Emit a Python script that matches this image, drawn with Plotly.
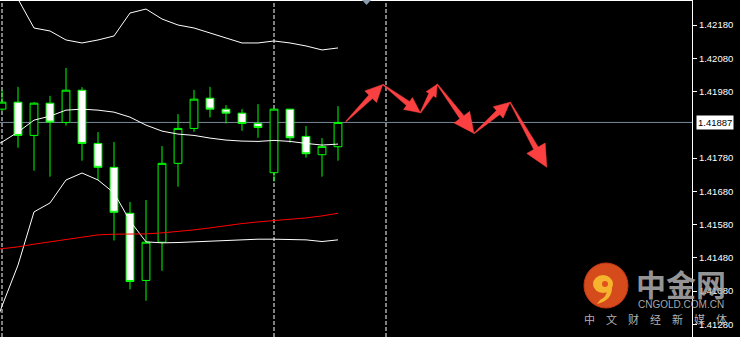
import math
import plotly.graph_objects as go

# ---------------- data ----------------
bars = list(range(22))
opens = [1.41927, 1.41948, 1.41848, 1.41945, 1.41887, 1.41984, 1.41824, 1.41752, 1.41614, 1.41412, 1.41527,
         1.41764, 1.41869, 1.41960, 1.41927, 1.41915, 1.41884, 1.41736, 1.41927, 1.41845, 1.41790, 1.41814]
highs = [1.41985, 1.41994, 1.41948, 1.41967, 1.42051, 1.41993, 1.41858, 1.41828, 1.41648, 1.41654, 1.41816,
         1.41912, 1.41985, 1.41994, 1.41939, 1.41927, 1.41942, 1.41928, 1.41927, 1.41876, 1.41840, 1.41936]
lows = [1.41921, 1.41811, 1.41742, 1.41724, 1.41878, 1.41772, 1.41714, 1.41532, 1.41385, 1.41351, 1.41441,
        1.41694, 1.41859, 1.41902, 1.41884, 1.41862, 1.41841, 1.41709, 1.41826, 1.41781, 1.41724, 1.41772]
closes = [1.41948, 1.41848, 1.41945, 1.41888, 1.41984, 1.41824, 1.41752, 1.41617, 1.41409, 1.41527, 1.41764,
          1.41869, 1.41957, 1.41927, 1.41915, 1.41884, 1.41872, 1.41927, 1.41841, 1.41793, 1.41815, 1.41887]

band_x = list(range(-1, 22))
upper_band = [1.42436, 1.42339, 1.42258, 1.42171, 1.42162, 1.42135, 1.42126, 1.42135, 1.42147, 1.42216, 1.42228,
              1.42198, 1.42180, 1.42171, 1.42156, 1.42141, 1.42126, 1.42126, 1.42132, 1.42126, 1.42117, 1.42105, 1.42111]
middle_band = [1.41804, 1.41828, 1.41858, 1.41894, 1.41906, 1.41924, 1.41927, 1.41924, 1.41918, 1.41903, 1.41879,
               1.41861, 1.41852, 1.41848, 1.41840, 1.41834, 1.41831, 1.41830, 1.41833, 1.41830, 1.41824, 1.41819, 1.41822]
lower_band = [1.41203, 1.41335, 1.41458, 1.41618, 1.41645, 1.41714, 1.41735, 1.41714, 1.41675, 1.41591, 1.41528,
              1.41525, 1.41526, 1.41528, 1.41531, 1.41534, 1.41535, 1.41536, 1.41536, 1.41536, 1.41534, 1.41529, 1.41534]
ma_red = [1.41502, 1.41507, 1.41513, 1.41521, 1.41528, 1.41537, 1.41543, 1.41549, 1.41551, 1.41551, 1.41552,
          1.41555, 1.41559, 1.41564, 1.41570, 1.41577, 1.41583, 1.41588, 1.41592, 1.41594, 1.41600, 1.41606, 1.41614]

current_price = 1.41887
separator_bars = [0, 17, 24]
tick_prices = [1.41280, 1.41380, 1.41480, 1.41580, 1.41680, 1.41780, 1.41980, 1.42080, 1.42180]
tick_labels = ["%.5f" % p for p in tick_prices]

arrow_x = [21.5, 23.8, 26.15, 27.2, 29.5, 31.75, 34.05]
arrow_y = [1.41890, 1.42001, 1.41916, 1.42002, 1.41854, 1.41948, 1.41752]

# ---------------- layout geometry ----------------
W, H = 740, 337
MR = 48
PW, PH = W - MR, H
X_RANGE = [-0.125, 43.125]
Y_RANGE = [1.4124194, 1.4225517]
sx = PW / (X_RANGE[1] - X_RANGE[0])
sy = PH / (Y_RANGE[1] - Y_RANGE[0])

GREEN = "#00ff00"
RED_ARROW = "#fa4040"

fig = go.Figure()

fig.add_trace(go.Candlestick(
    x=bars, open=opens, high=highs, low=lows, close=closes,
    increasing=dict(line=dict(color=GREEN, width=1), fillcolor="black"),
    decreasing=dict(line=dict(color=GREEN, width=1), fillcolor="white"),
    whiskerwidth=0, showlegend=False, hoverinfo="skip"))

for series, col in [(upper_band, "white"), (middle_band, "white"), (lower_band, "white"), (ma_red, "#ff0000")]:
    fig.add_trace(go.Scatter(x=band_x, y=series, mode="lines",
                             line=dict(color=col, width=1), showlegend=False, hoverinfo="skip"))


def arrow_poly(xa, ya, xb, yb):
    ax, ay = xa * sx, ya * sy
    bx, by = xb * sx, yb * sy
    dx, dy = bx - ax, by - ay
    L = math.hypot(dx, dy)
    ux, uy = dx / L, dy / L
    nx, ny = -uy, ux
    hl = min(max(0.33 * L, 12.0), 22.0)
    hw = 0.48 * hl
    cx, cy = bx - ux * hl, by - uy * hl
    st, sb = 0.4, 2.6
    pts = [(ax + nx * st, ay + ny * st), (cx + nx * sb, cy + ny * sb), (cx + nx * hw, cy + ny * hw),
           (bx, by), (cx - nx * hw, cy - ny * hw), (cx - nx * sb, cy - ny * sb),
           (ax - nx * st, ay - ny * st), (ax + nx * st, ay + ny * st)]
    return [p[0] / sx for p in pts], [p[1] / sy for p in pts]


for i in range(len(arrow_x) - 1):
    px_, py_ = arrow_poly(arrow_x[i], arrow_y[i], arrow_x[i + 1], arrow_y[i + 1])
    fig.add_trace(go.Scatter(x=px_, y=py_, mode="lines", fill="toself", fillcolor=RED_ARROW,
                             line=dict(color=RED_ARROW, width=0.5), showlegend=False, hoverinfo="skip"))

shapes = []
# current price line
shapes.append(dict(type="line", xref="paper", yref="y", x0=0, x1=1, y0=current_price, y1=current_price,
                   line=dict(color="#778899", width=1), layer="below"))
# period separators
for b in separator_bars:
    shapes.append(dict(type="line", xref="x", yref="paper", x0=b, x1=b, y0=0, y1=1,
                       line=dict(color="white", width=1, dash="4px,2px"), layer="below"))
# top frame line
shapes.append(dict(type="line", xref="paper", yref="paper", x0=0, x1=1, y0=1 - 0.5 / PH, y1=1 - 0.5 / PH,
                   line=dict(color="white", width=1)))


def pp(x, y):
    return x / PW, 1 - y / PH


# chart shift marker
a, b_, c = pp(362, 0), pp(371, 0), pp(366.5, 5)
shapes.append(dict(type="path", xref="paper", yref="paper",
                   path=f"M {a[0]} {a[1]} L {b_[0]} {b_[1]} L {c[0]} {c[1]} Z",
                   fillcolor="#8a9bb0", line=dict(width=0)))

# logo circle
c0, c1 = pp(584, 263), pp(628, 308)
shapes.append(dict(type="circle", xref="paper", yref="paper", x0=c0[0], y0=c1[1], x1=c1[0], y1=c0[1],
                   fillcolor="#e2501e", line=dict(color="#d03a18", width=1), opacity=0.95))
y0_, y1_ = pp(593, 275), pp(613, 293)
shapes.append(dict(type="circle", xref="paper", yref="paper", x0=y0_[0], y0=y1_[1], x1=y1_[0], y1=y0_[1],
                   fillcolor="#f6b42e", line=dict(width=0)))
h0, h1 = pp(602, 281), pp(608, 287)
shapes.append(dict(type="circle", xref="paper", yref="paper", x0=h0[0], y0=h1[1], x1=h1[0], y1=h0[1],
                   fillcolor="#e2501e", line=dict(width=0)))
t = [pp(612, 286), pp(613, 300), pp(597, 304), pp(600, 300), pp(607, 297), pp(607, 289)]
shapes.append(dict(type="path", xref="paper", yref="paper",
                   path=(f"M {t[0][0]} {t[0][1]} Q {t[1][0]} {t[1][1]} {t[2][0]} {t[2][1]} "
                         f"L {t[3][0]} {t[3][1]} Q {t[4][0]} {t[4][1]} {t[5][0]} {t[5][1]} Z"),
                   fillcolor="#f6b42e", line=dict(width=0)))

annotations = [
    dict(xref="paper", yref="y", x=1, y=current_price, xanchor="left", yanchor="middle", xshift=4,
         text="1.41887", showarrow=False, bgcolor="white", borderpad=1,
         font=dict(family="Liberation Sans", size=9.5, color="black")),
    dict(xref="paper", yref="paper", x=681 / PW, y=1 - 283 / PH, xanchor="center", yanchor="middle",
         text="<b>中金网</b>", showarrow=False,
         font=dict(family="Noto Sans CJK SC", size=30, color="rgba(170,170,170,0.88)")),
    dict(xref="paper", yref="paper", x=681 / PW, y=1 - 304.5 / PH, xanchor="center", yanchor="middle",
         text="CNGOLD.COM.CN", showarrow=False,
         font=dict(family="Liberation Sans", size=10, color="rgba(190,190,190,0.9)")),
    dict(xref="paper", yref="paper", x=655 / PW, y=1 - 318.5 / PH, xanchor="center", yanchor="middle",
         text="\u3000".join("中文财经新媒体"),
         showarrow=False, font=dict(family="Noto Sans CJK SC", size=11, color="rgba(200,200,200,0.9)")),
]

fig.update_layout(
    width=W, height=H, margin=dict(l=0, r=MR, t=0, b=0),
    paper_bgcolor="black", plot_bgcolor="black", showlegend=False,
    shapes=shapes, annotations=annotations,
    xaxis=dict(range=X_RANGE, visible=False, rangeslider=dict(visible=False), fixedrange=True),
    yaxis=dict(range=Y_RANGE, side="right", showgrid=False, zeroline=False,
               showline=True, linecolor="white", linewidth=1,
               ticks="outside", ticklen=4, tickcolor="white",
               tickvals=tick_prices, ticktext=tick_labels,
               tickfont=dict(family="Liberation Sans", size=9.5, color="white")),
)

fig.write_html("out.html")
